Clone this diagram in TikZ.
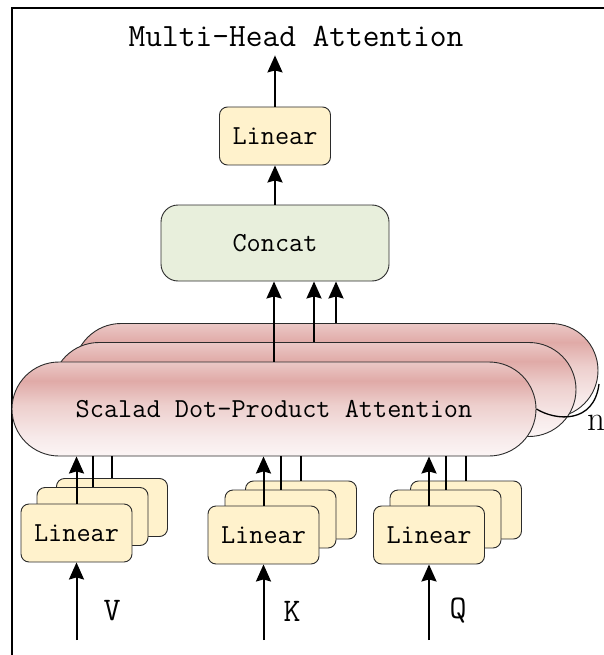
\documentclass[tikz,border=0pt]{standalone}
\usetikzlibrary{arrows.meta}
\definecolor{linfill}{HTML}{FFF2CC}
\definecolor{catfill}{HTML}{E8EFDC}
\definecolor{edge}{HTML}{2B2B2B}
\definecolor{pA}{HTML}{FCF5F5}
\definecolor{pB}{HTML}{F7EAEA}
\definecolor{pC}{HTML}{EDCFCD}
\definecolor{pD}{HTML}{E0AAA7}
\definecolor{pE}{HTML}{EBC8C6}
\pgfdeclareverticalshading{attnshade}{100bp}{color(0bp)=(pA); color(25bp)=(pA); color(35bp)=(pB); color(52bp)=(pC); color(65bp)=(pD); color(75bp)=(pE); color(100bp)=(pE)}
\begin{document}
\begin{tikzpicture}[x=1pt,y=-1pt,
  box/.style={draw=edge,line width=0.9pt,inner sep=0pt},
  linbox/.style={box,fill=linfill,rounded corners=8pt,minimum width=111pt,minimum height=58pt,font=\ttfamily\fontsize{27.5}{30}\selectfont},
  catbox/.style={box,fill=catfill,rounded corners=17pt,minimum width=228pt,minimum height=76pt,font=\ttfamily\fontsize{27.5}{30}\selectfont},
  attnbox/.style={box,shading=attnshade,rounded corners=47pt,minimum width=524pt,minimum height=94pt,font=\ttfamily\fontsize{27.5}{30}\selectfont},
  arr/.style={line width=2pt,-{Stealth[length=17pt,width=15pt,inset=2pt]}},
  plainline/.style={line width=2pt},
  lbl/.style={font=\ttfamily\fontsize{33}{36}\selectfont,inner sep=0pt}]
\useasboundingbox (0,0) rectangle (603,655);
% frame
\draw[line width=1.5pt] (12,662) -- (12,8) -- (612,8);

% title
\node[font=\ttfamily\fontsize{32.5}{36}\selectfont,anchor=base,inner xsep=0pt,inner ysep=8pt] (title) at (296,47) {Multi-Head Attention};

% top linear and concat
\node[linbox] (lt) at (275,136) {Linear};
\node[catbox] (cc) at (275,243) {Concat};

% attention stack
\node[attnbox] (a3) at (336,370.5) {};
\node[attnbox] (a2) at (314,389.5) {};
\node[attnbox] (a1) at (274,409) {Scalad Dot-Product Attention};

% linear stacks
\node[linbox] (vb) at (112,507.5) {};
\node[linbox] (vm) at (92.5,516.5) {};
\node[linbox] (vf) at (76.5,533) {Linear};
\node[linbox] (kb) at (301,510) {};
\node[linbox] (km) at (280.5,519) {};
\node[linbox] (kf) at (263.5,535) {Linear};
\node[linbox] (qb) at (466,510) {};
\node[linbox] (qm) at (445.5,519) {};
\node[linbox] (qf) at (429,535) {Linear};

% connectors top
\draw[arr] (lt.north) -- (lt.north |- title.south);
\draw[arr] (cc.north) -- (lt.south);
\draw[arr] (a1.north) -- (a1.north |- cc.south);
\draw[arr] (a2.north) -- (a2.north |- cc.south);
\draw[arr] (a3.north) -- (a3.north |- cc.south);

% connectors linear -> attention
\draw[arr] (vf.north) -- (vf.north |- a1.south);
\draw[plainline] (vm.north) -- (vm.north |- a1.south);
\draw[plainline] (vb.north) -- (vb.north |- a1.south);
\draw[arr] (kf.north) -- (kf.north |- a1.south);
\draw[plainline] (km.north) -- (km.north |- a1.south);
\draw[plainline] (kb.north) -- (kb.north |- a1.south);
\draw[arr] (qf.north) -- (qf.north |- a1.south);
\draw[plainline] (qm.north) -- (qm.north |- a1.south);
\draw[plainline] (qb.north) -- (qb.north |- a1.south);

% inputs
\coordinate (vin) at (76.5,640);
\coordinate (kin) at (263.5,640);
\coordinate (qin) at (429,640);
\draw[arr] (vin) -- (vf.south);
\draw[arr] (kin) -- (kf.south);
\draw[arr] (qin) -- (qf.south);
\node[lbl] (lv) at (112,611) {V};
\node[lbl] (lk) at (292,611) {K};
\node[lbl] (lq) at (458,611) {Q};

% bracket and n
\coordinate (bend) at (599,384);
\draw[line width=1.3pt] (a1.east) .. controls (556,421) and (594,424) .. (bend);
\node[anchor=base west,inner sep=0pt,font=\rmfamily\fontsize{35}{40}\selectfont] (nlab) at (587,430) {n};
\end{tikzpicture}
\end{document}
